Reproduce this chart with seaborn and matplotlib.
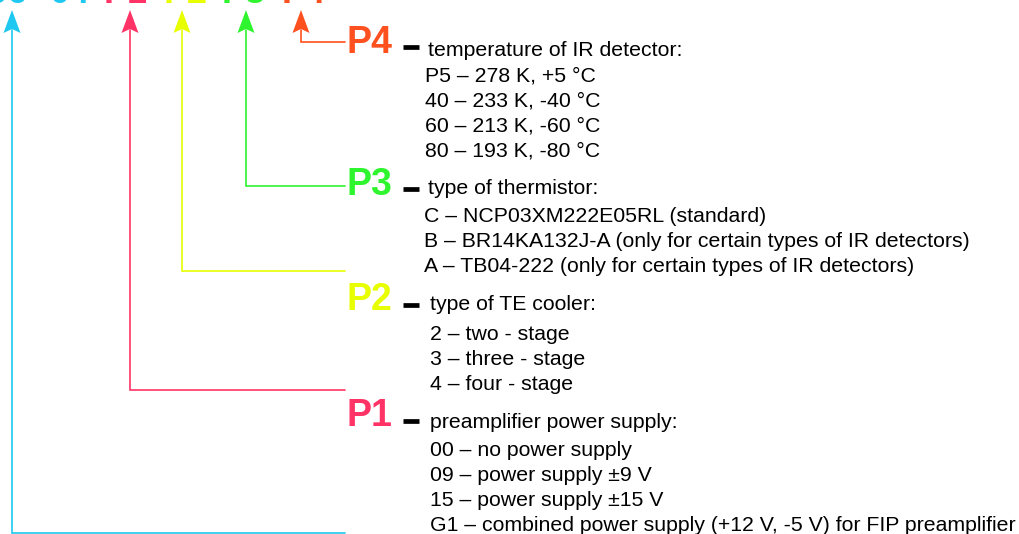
import matplotlib.pyplot as plt
import seaborn as sns

# === Content ===
code_parts = ["96", "04", "P1", "P2", "P3", "P4"]
code_colors = ["#1EC8F0", "#1EC8F0", "#FF3366", "#E8FF00", "#2EF52E", "#FF5020"]

param_names = ["P4", "P3", "P2", "P1"]
param_colors = ["#FF5020", "#2EF52E", "#E8FF00", "#FF3366"]
param_headers = [
    "temperature of IR detector:",
    "type of thermistor:",
    "type of TE cooler:",
    "preamplifier power supply:",
]
p4_options = ["P5 – 278 K, +5 °C", "40 – 233 K, -40 °C", "60 – 213 K, -60 °C", "80 – 193 K, -80 °C"]
p3_options = [
    "C – NCP03XM222E05RL (standard)",
    "B – BR14KA132J-A (only for certain types of IR detectors)",
    "A – TB04-222 (only for certain types of IR detectors)",
]
p2_options = ["2 – two - stage", "3 – three - stage", "4 – four - stage"]
p1_options = [
    "00 – no power supply",
    "09 – power supply ±9 V",
    "15 – power supply ±15 V",
    "G1 – combined power supply (+12 V, -5 V) for FIP preamplifier",
]
param_options = [p4_options, p3_options, p2_options, p1_options]

# === Layout (pixels, y down) ===
W, H = 1020, 534
code_x = [28, 50, 104, 164, 222, 282]
code_base_y = 3
arrow_x = [12, 130, 182, 246, 301]          # cyan (whole code), P1, P2, P3, P4
arrow_colors = ["#1EC8F0", "#FF3366", "#E8FF00", "#2EF52E", "#FF5020"]
bend_y = [533, 390, 271, 186, 42]
line_end_x = 345
label_x = 347
label_y = [43, 185, 300, 416]
dash_y = [47, 189, 305, 421]
header_x = [428, 428, 430, 430]
header_y = [50, 188, 305, 423]
option_x = [425, 424, 430, 430]
option_y0 = [76, 217, 335, 451]
row_step = 24.9
body_size = 15.3

sns.set_theme(style="white")
plt.rcParams["font.family"] = ["Liberation Sans", "DejaVu Sans"]

fig = plt.figure(figsize=(W / 100, H / 100), dpi=100)
ax = fig.add_axes([0, 0, 1, 1])
ax.set_xlim(0, W)
ax.set_ylim(H, 0)
ax.axis("off")

# clipped code string at the top
for i, part in enumerate(code_parts):
    ax.text(code_x[i], code_base_y, part, color=code_colors[i], fontsize=26,
            fontweight="bold", ha="right" if i == 0 else "left", va="baseline")

# arrows and connectors
for x, c, by in zip(arrow_x, arrow_colors, bend_y):
    ax.plot([x, x, line_end_x], [30, by, by], color=c, lw=1.2, solid_joinstyle="miter")
    ax.fill([x, x - 8.5, x, x + 8.5], [10, 33, 29, 33], color=c, lw=0)

# parameter blocks
for i, name in enumerate(param_names):
    ax.text(label_x, label_y[i], name, color=param_colors[i], fontsize=27,
            fontweight="bold", ha="left", va="center")
    ax.plot([403, 419], [dash_y[i], dash_y[i]], color="black", lw=3.4, solid_capstyle="butt")
    ax.text(header_x[i], header_y[i], param_headers[i], color="black", fontsize=body_size,
            ha="left", va="center")
    for j, opt in enumerate(param_options[i]):
        ax.text(option_x[i], option_y0[i] + j * row_step, opt, color="black",
                fontsize=body_size, ha="left", va="center")

fig.savefig("out.png", dpi=100)
